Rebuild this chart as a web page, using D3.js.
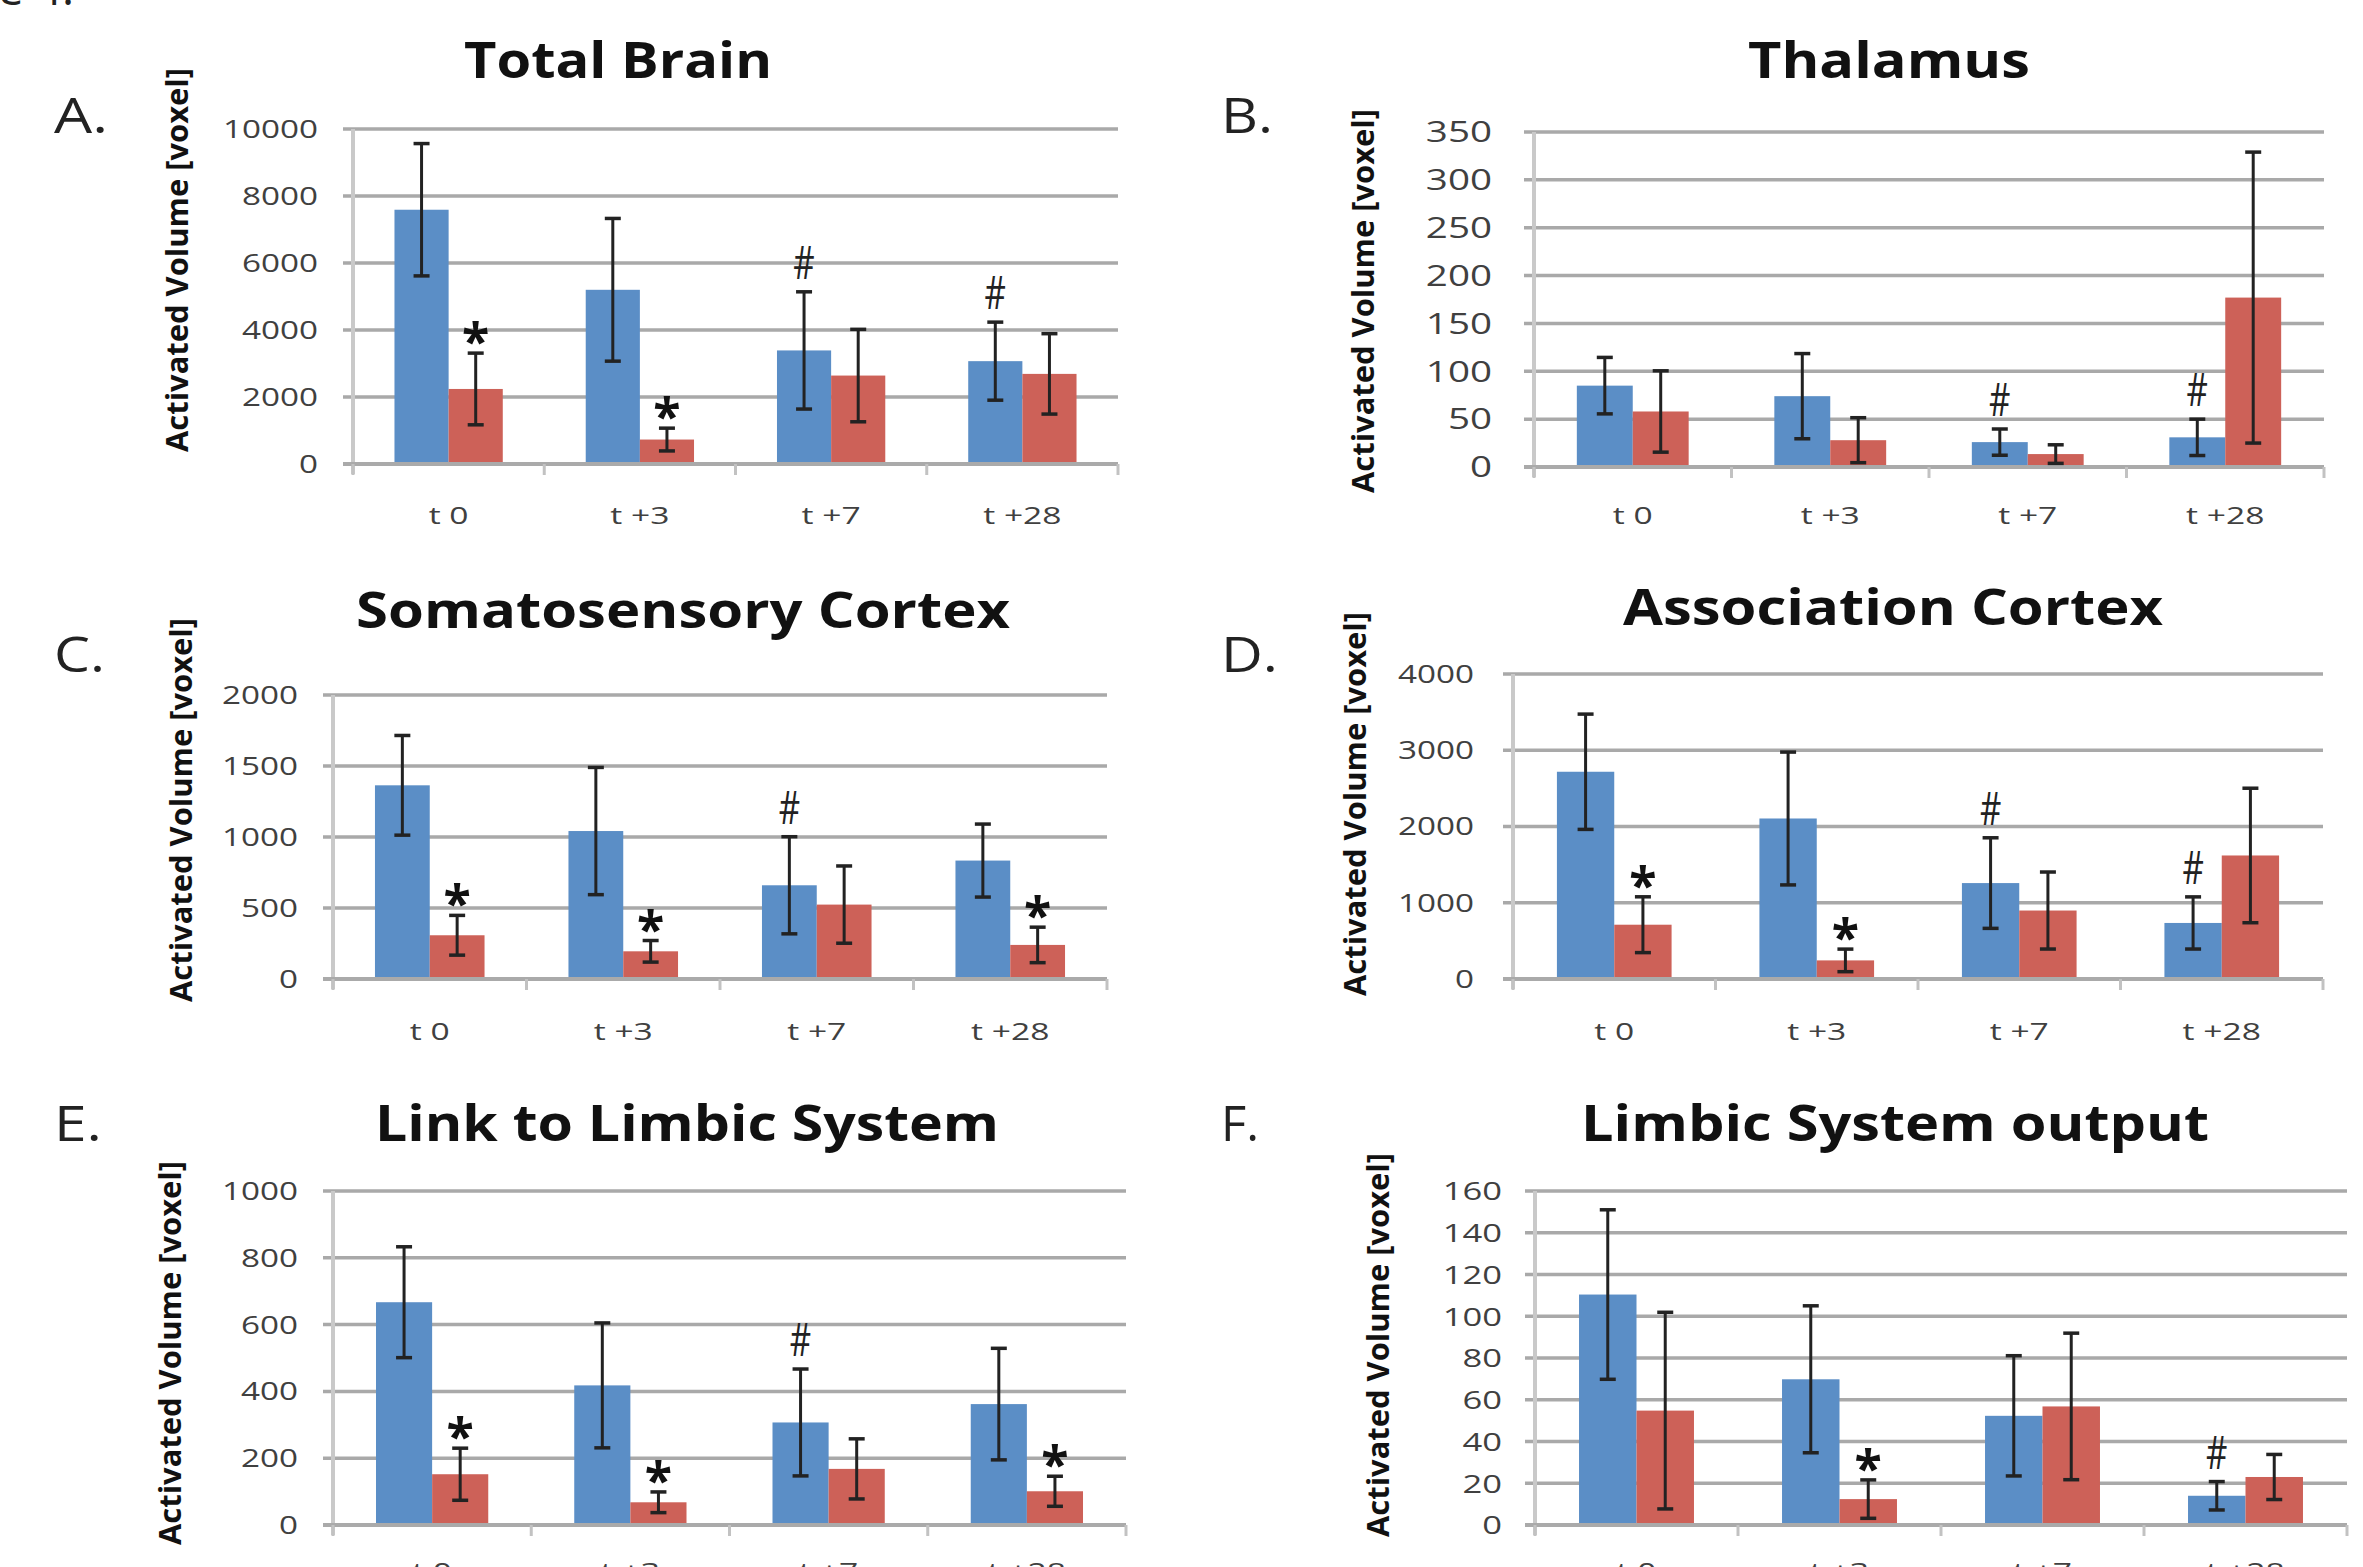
<!DOCTYPE html>
<html><head><meta charset="utf-8">
<script src="https://cdn.jsdelivr.net/npm/d3@7/dist/d3.min.js"></script>
<style>html,body{margin:0;padding:0;background:#fff;overflow:hidden}</style>
</head><body>
<svg id="chart" width="2363" height="1567"></svg>
<script>
// ---------- DATA ----------
const categories = ["t 0", "t +3", "t +7", "t +28"];
const seriesKeys = ["blue", "red"];

// A. Total Brain
const totalBrainTicks = [0, 2000, 4000, 6000, 8000, 10000];
const totalBrainBlue = [7590, 5200, 3390, 3070];
const totalBrainBlueSD = [1975, 2130, 1750, 1165];
const totalBrainRed = [2240, 730, 2640, 2690];
const totalBrainRedSD = [1070, 340, 1380, 1200];
const totalBrainBlueMarks = ["", "", "#", "#"];
const totalBrainRedMarks = ["*", "*", "", ""];

// B. Thalamus
const thalamusTicks = [0, 50, 100, 150, 200, 250, 300, 350];
const thalamusBlue = [85, 74, 26, 31];
const thalamusBlueSD = [29.5, 44.5, 13.7, 19];
const thalamusRed = [58, 28, 13.5, 177];
const thalamusRedSD = [42.5, 23.5, 9.7, 152];
const thalamusBlueMarks = ["", "", "#", "#"];
const thalamusRedMarks = ["", "", "", ""];

// C. Somatosensory Cortex
const somatoTicks = [0, 500, 1000, 1500, 2000];
const somatoBlue = [1364, 1042, 660, 834];
const somatoBlueSD = [351, 448, 342, 257];
const somatoRed = [308, 195, 524, 240];
const somatoRedSD = [140, 76, 272, 125];
const somatoBlueMarks = ["", "", "#", ""];
const somatoRedMarks = ["*", "*", "", "*"];

// D. Association Cortex
const assocTicks = [0, 1000, 2000, 3000, 4000];
const assocBlue = [2718, 2105, 1258, 735];
const assocBlueSD = [756, 871, 594, 342];
const assocRed = [712, 244, 898, 1620];
const assocRedSD = [366, 148, 505, 882];
const assocBlueMarks = ["", "", "#", "#"];
const assocRedMarks = ["*", "*", "", ""];

// E. Link to Limbic System
const linkTicks = [0, 200, 400, 600, 800, 1000];
const linkBlue = [667, 418, 307, 362];
const linkBlueSD = [166, 187, 160, 167];
const linkRed = [152, 68, 168, 101];
const linkRedSD = [78, 31, 90, 45];
const linkBlueMarks = ["", "", "#", ""];
const linkRedMarks = ["*", "*", "", "*"];

// F. Limbic System output
const limbicTicks = [0, 20, 40, 60, 80, 100, 120, 140, 160];
const limbicBlue = [110.4, 69.8, 52.3, 14];
const limbicBlueSD = [40.6, 35.2, 28.8, 6.8];
const limbicRed = [54.8, 12.4, 56.8, 23];
const limbicRedSD = [47.1, 9.2, 35.1, 10.8];
const limbicBlueMarks = ["", "", "", "#"];
const limbicRedMarks = ["", "*", "", ""];

const yAxisTitle = "Activated Volume [voxel]";
const figureCaption = "Figure 4.";

// ---------- PANELS (data refs + layout) ----------
const panels = [
  {letter: "A.", title: "Total Brain", ticks: totalBrainTicks,
   blue: totalBrainBlue, blueSD: totalBrainBlueSD, red: totalBrainRed, redSD: totalBrainRedSD,
   blueMarks: totalBrainBlueMarks, redMarks: totalBrainRedMarks,
   L: {x0: 353, x1: 1118, yTop: 129, y0: 464, tx: 618, ty: 78, tw: 308, lx: 54, ly: 133, lw: 54,
       yx: 188, yy: 260, tickR: 318, tickFs: 25, xlabY: 524}},
  {letter: "B.", title: "Thalamus", ticks: thalamusTicks,
   blue: thalamusBlue, blueSD: thalamusBlueSD, red: thalamusRed, redSD: thalamusRedSD,
   blueMarks: thalamusBlueMarks, redMarks: thalamusRedMarks,
   L: {x0: 1534, x1: 2324, yTop: 132, y0: 467, tx: 1889, ty: 78, tw: 282, lx: 1221, ly: 133, lw: 52,
       yx: 1374, yy: 301, tickR: 1492, tickFs: 29, xlabY: 524}},
  {letter: "C.", title: "Somatosensory Cortex", ticks: somatoTicks,
   blue: somatoBlue, blueSD: somatoBlueSD, red: somatoRed, redSD: somatoRedSD,
   blueMarks: somatoBlueMarks, redMarks: somatoRedMarks,
   L: {x0: 333, x1: 1107, yTop: 695, y0: 979, tx: 683, ty: 628, tw: 654, lx: 54, ly: 672, lw: 51,
       yx: 192, yy: 810, tickR: 298, tickFs: 25, xlabY: 1040}},
  {letter: "D.", title: "Association Cortex", ticks: assocTicks,
   blue: assocBlue, blueSD: assocBlueSD, red: assocRed, redSD: assocRedSD,
   blueMarks: assocBlueMarks, redMarks: assocRedMarks,
   L: {x0: 1513, x1: 2323, yTop: 674, y0: 979, tx: 1893, ty: 625, tw: 540, lx: 1221, ly: 672, lw: 57,
       yx: 1366, yy: 804, tickR: 1474, tickFs: 25, xlabY: 1040}},
  {letter: "E.", title: "Link to Limbic System", ticks: linkTicks,
   blue: linkBlue, blueSD: linkBlueSD, red: linkRed, redSD: linkRedSD,
   blueMarks: linkBlueMarks, redMarks: linkRedMarks,
   L: {x0: 333, x1: 1126, yTop: 1191, y0: 1525, tx: 687, ty: 1141, tw: 624, lx: 54, ly: 1141, lw: 48,
       yx: 181, yy: 1353, tickR: 298, tickFs: 25, xlabY: 1580}},
  {letter: "F.", title: "Limbic System output", ticks: limbicTicks,
   blue: limbicBlue, blueSD: limbicBlueSD, red: limbicRed, redSD: limbicRedSD,
   blueMarks: limbicBlueMarks, redMarks: limbicRedMarks,
   L: {x0: 1535, x1: 2347, yTop: 1191, y0: 1525, tx: 1895, ty: 1141, tw: 628, lx: 1221, ly: 1141, lw: 38,
       yx: 1389, yy: 1345, tickR: 1502, tickFs: 26, xlabY: 1580}}
];

// ---------- STYLE ----------
const FONT = "'Open Sans', 'Noto Sans', sans-serif";
const COLORS = {blue: "#5b8ec6", red: "#cd6158"};
const GRID = "#a9a9a9";

const svg = d3.select("#chart");
svg.append("rect").attr("width", 2363).attr("height", 1567).attr("fill", "#fff");

// partially visible figure caption at very top (cut off by the page edge, as in the source)
svg.append("text").attr("x", 74).attr("y", 5).attr("text-anchor", "end")
  .attr("font-family", FONT).attr("font-size", 46).attr("fill", "#222").text(figureCaption);

function stretched(parent, str, x, y, sx, anchor, fs, weight, fill) {
  return parent.append("text")
    .attr("transform", `translate(${x},${y}) scale(${sx},1)`)
    .attr("text-anchor", anchor)
    .attr("font-family", FONT).attr("font-size", fs)
    .attr("font-weight", weight).attr("fill", fill)
    .text(str);
}

function drawPanel(p) {
  const L = p.L;
  const g = svg.append("g");
  const x = d3.scaleBand().domain(categories).range([L.x0, L.x1]).padding(0);
  const xs = d3.scaleBand().domain(seriesKeys).range([0, x.bandwidth()])
    .paddingInner(0).paddingOuter(0.766);
  const y = d3.scaleLinear().domain([0, d3.max(p.ticks)]).range([L.y0, L.yTop]);

  // gridlines (with small outward tick)
  g.selectAll("line.grid").data(p.ticks.filter(t => t > 0)).join("line")
    .attr("class", "grid")
    .attr("x1", L.x0 - 10).attr("x2", L.x1)
    .attr("y1", d => y(d)).attr("y2", d => y(d))
    .attr("stroke", GRID).attr("stroke-width", 3.5);

  // y axis line
  g.append("line").attr("x1", L.x0).attr("x2", L.x0)
    .attr("y1", y(d3.max(p.ticks))).attr("y2", L.y0 + 10)
    .attr("stroke", "#c9c9c9").attr("stroke-width", 4);

  // tick labels
  p.ticks.forEach(t => {
    stretched(g, String(t), L.tickR, y(t) + 0.357 * L.tickFs, 1.33, "end", L.tickFs, 400, "#404040");
  });

  // bars
  const series = [
    {key: "blue", vals: p.blue, sd: p.blueSD, marks: p.blueMarks},
    {key: "red", vals: p.red, sd: p.redSD, marks: p.redMarks}
  ];
  series.forEach(s => {
    g.selectAll(null).data(categories).join("rect")
      .attr("x", c => x(c) + xs(s.key))
      .attr("width", xs.bandwidth())
      .attr("y", (c, i) => y(s.vals[i]))
      .attr("height", (c, i) => L.y0 - y(s.vals[i]))
      .attr("fill", COLORS[s.key]);
  });

  // x axis line + ticks
  g.append("line").attr("x1", L.x0 - 10).attr("x2", L.x1)
    .attr("y1", L.y0).attr("y2", L.y0)
    .attr("stroke", "#aaaaaa").attr("stroke-width", 4);
  const bounds = categories.map(c => x(c)).concat([L.x1]);
  g.selectAll(null).data(bounds).join("line")
    .attr("x1", d => d).attr("x2", d => d)
    .attr("y1", L.y0).attr("y2", L.y0 + 11)
    .attr("stroke", "#c2c2c2").attr("stroke-width", 3);

  // error bars and markers
  series.forEach(s => {
    categories.forEach((c, i) => {
      const cx = x(c) + xs(s.key) + xs.bandwidth() / 2;
      const hi = y(s.vals[i] + s.sd[i]);
      const lo = y(s.vals[i] - s.sd[i]);
      g.append("line").attr("x1", cx).attr("x2", cx).attr("y1", hi).attr("y2", lo)
        .attr("stroke", "#222").attr("stroke-width", 3);
      [hi, lo].forEach(yy => {
        g.append("line").attr("x1", cx - 8).attr("x2", cx + 8).attr("y1", yy).attr("y2", yy)
          .attr("stroke", "#222").attr("stroke-width", 3.5);
      });
      const m = s.marks[i];
      if (m === "*") {
        g.append("text").attr("x", cx).attr("y", hi + 6).attr("text-anchor", "middle")
          .attr("font-family", FONT).attr("font-size", 50).attr("font-weight", 700)
          .attr("fill", "#111").text("*");
      } else if (m === "#") {
        stretched(g, "#", cx, hi - 13, 0.72, "middle", 46, 400, "#222");
      }
    });
  });

  // x labels
  categories.forEach(c => {
    stretched(g, c, x(c) + x.bandwidth() / 2, L.xlabY, 1.4, "middle", 24, 400, "#404040");
  });

  // title
  g.append("text").attr("x", L.tx).attr("y", L.ty).attr("text-anchor", "middle")
    .attr("font-family", FONT).attr("font-size", 51).attr("font-weight", 700).attr("fill", "#111")
    .attr("textLength", L.tw).attr("lengthAdjust", "spacingAndGlyphs")
    .text(p.title);

  // panel letter
  g.append("text").attr("x", L.lx).attr("y", L.ly)
    .attr("font-family", FONT).attr("font-size", 49).attr("font-weight", 400).attr("fill", "#222")
    .attr("textLength", L.lw).attr("lengthAdjust", "spacingAndGlyphs")
    .text(p.letter);

  // y axis title
  g.append("text").attr("transform", `translate(${L.yx},${L.yy}) rotate(-90)`)
    .attr("text-anchor", "middle")
    .attr("font-family", FONT).attr("font-size", 31).attr("font-weight", 700).attr("fill", "#111")
    .attr("textLength", 384).attr("lengthAdjust", "spacingAndGlyphs")
    .text(yAxisTitle);
}

panels.forEach(drawPanel);
</script>
</body></html>
